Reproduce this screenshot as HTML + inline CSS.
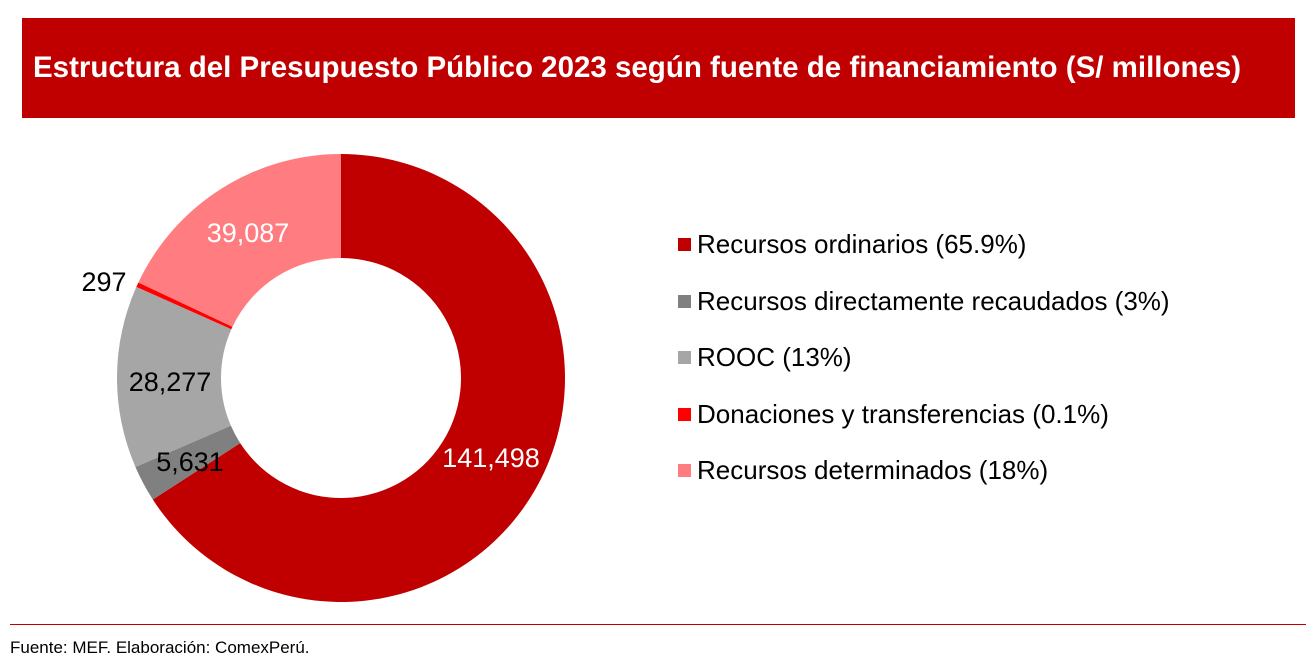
<!DOCTYPE html>
<html><head><meta charset="utf-8"><style>
body{margin:0;width:1316px;height:671px;background:#fff;font-family:"Liberation Sans",Arial,sans-serif;position:relative;overflow:hidden}
.t{position:absolute;left:22px;top:18px;width:1273px;height:100px;background:#C00000;color:#fff;font-weight:bold;font-size:29.5px;line-height:100px;box-sizing:border-box;padding-left:11px;white-space:nowrap}
.lg{position:absolute;left:678px;font-size:26px;color:#000;white-space:nowrap}
.lg span{display:inline-block;width:13px;height:13px;margin-right:6px;vertical-align:2px}
.ft{position:absolute;left:10px;top:638px;font-size:17px}
.ln{position:absolute;left:10px;top:624px;width:1296px;height:1px;background:#C00000}
</style></head><body>
<div class="t">Estructura del Presupuesto Público 2023 según fuente de financiamiento (S/ millones)</div>
<svg width="1316" height="671" style="position:absolute;left:0;top:0" id="s">
<g id="g"></g>
<g font-size="27" text-anchor="middle" font-family="Liberation Sans,Arial,sans-serif">
<text x="491" y="467" fill="#fff">141,498</text>
<text x="248" y="242" fill="#fff">39,087</text>
<text x="170" y="391" fill="#000">28,277</text>
<text x="190" y="471" fill="#000">5,631</text>
<text x="104" y="291" fill="#000">297</text>
</g></svg>
<div class="lg" style="top:229px"><span style="background:#C00000"></span>Recursos ordinarios (65.9%)</div>
<div class="lg" style="top:286px"><span style="background:#808080"></span>Recursos directamente recaudados (3%)</div>
<div class="lg" style="top:342px"><span style="background:#A6A6A6"></span>ROOC (13%)</div>
<div class="lg" style="top:399px"><span style="background:#FF0000"></span>Donaciones y transferencias (0.1%)</div>
<div class="lg" style="top:455px"><span style="background:#FF7C80"></span>Recursos determinados (18%)</div>
<div class="ln"></div>
<div class="ft">Fuente: MEF. Elaboración: ComexPerú.</div>
<script>
var v=[141498,5631,28277,297,39087],c=["#C00000","#808080","#A6A6A6","#FF0000","#FF7C80"];
var T=v.reduce((a,b)=>a+b),cx=341,cy=378,R=224,r=120,a=0,h="";
function p(ang,rad){var t=ang*2*Math.PI-Math.PI/2;return (cx+rad*Math.cos(t)).toFixed(2)+" "+(cy+rad*Math.sin(t)).toFixed(2);}
for(var i=0;i<5;i++){var f=v[i]/T;if(i==3)f=0.0035;if(i==4)f=1-a;var b=a+f,l=f>0.5?1:0;
h+='<path fill="'+c[i]+'" d="M'+p(a,R)+' A'+R+' '+R+' 0 '+l+' 1 '+p(b,R)+' L'+p(b,r)+' A'+r+' '+r+' 0 '+l+' 0 '+p(a,r)+'Z"/>';a=b;}
document.getElementById("g").innerHTML=h;
</script>
</body></html>
